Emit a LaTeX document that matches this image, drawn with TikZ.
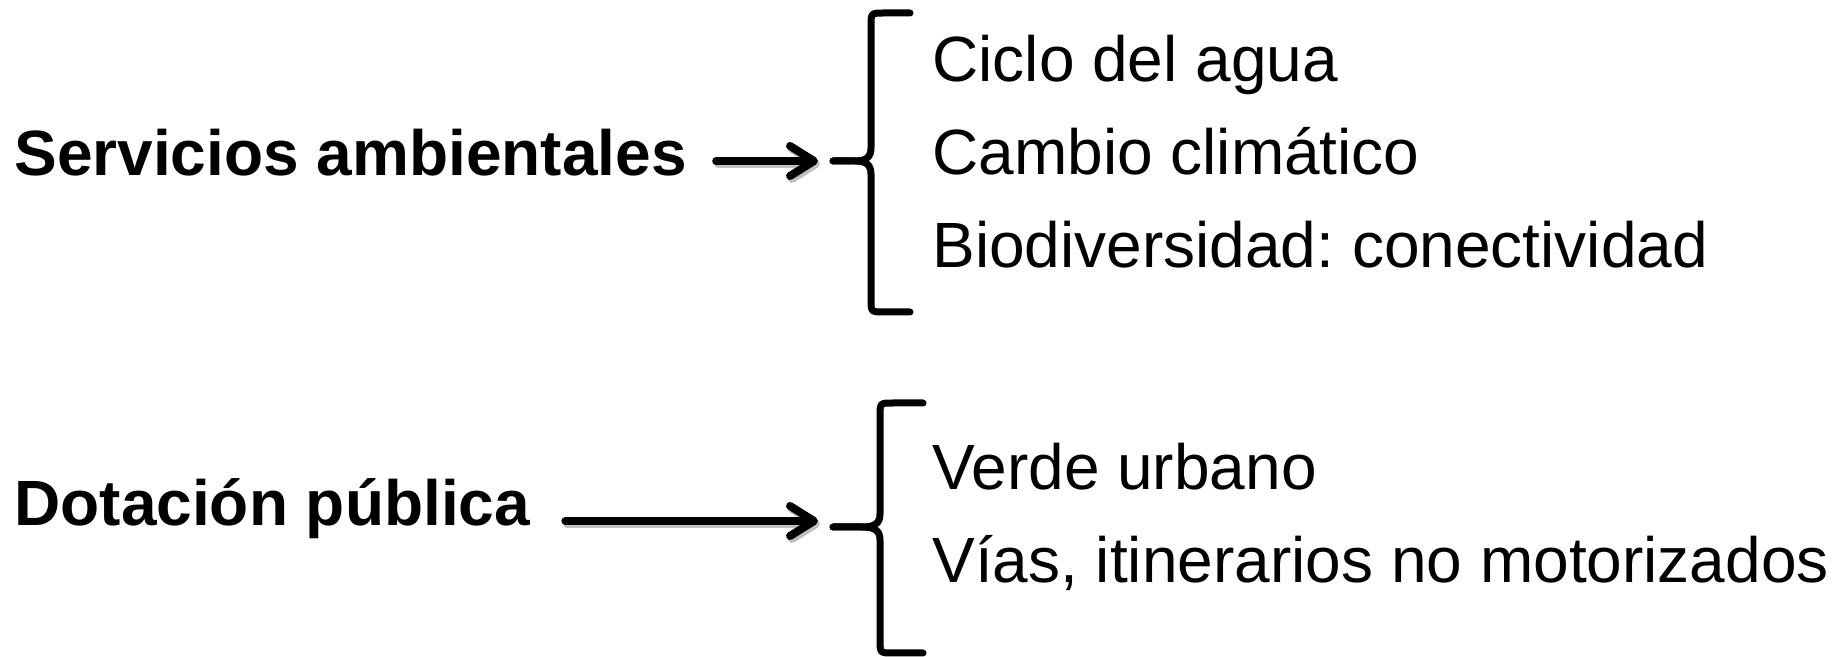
\documentclass[tikz,border=0pt]{standalone}
\usepackage{fontspec}
\setmainfont{Liberation Sans}
\usetikzlibrary{positioning,arrows.meta}

\tikzset{
  titulo/.style={font=\fontsize{32}{38}\selectfont\bfseries, inner sep=0pt, anchor=base west},
  item/.style={font=\fontsize{32}{38}\selectfont, inner sep=0pt, anchor=base west},
  flecha/.style={line width=4pt, line cap=round, -{Straight Barb[length=12pt,width=15pt,round]}},
  sombra/.style={flecha, draw=black!25, transform canvas={shift={(1pt,-1.5pt)}}},
  llave/.style={line width=3.5pt, line cap=round, line join=round}
}

\begin{document}
\frenchspacing
\begin{tikzpicture}[x=0.5pt, y=-0.5pt]
    \useasboundingbox (0,0) rectangle (1844,657);

    \node[titulo] (serv) at (14,176) {Servicios ambientales};
    \node[titulo, below=175pt of serv.base west, anchor=base west] (dot) {Dotación pública};

    \coordinate (p1) at (833,161);
    \coordinate (p2) at (833,527);
    \coordinate (f2) at (833,521);

    \node[item] (ciclo) at (932,82) {Ciclo del agua};
    \node[item, below=46.5pt of ciclo.base west, anchor=base west] (cambio) {Cambio climático};
    \node[item, below=46.5pt of cambio.base west, anchor=base west] (bio) {Biodiversidad: conectividad};

    \node[item] (verde) at (932,490) {Verde urbano};
    \node[item, below=46.5pt of verde.base west, anchor=base west] (vias) {Vías, itinerarios no motorizados};

    % llaves
    \draw[llave] (910,13) -- (884,13) .. controls (871,13) .. (871,26) -- (871,148)
        .. controls (871,158) and (865,161) .. (855,161) -- (p1);
    \draw[llave] (p1) -- (855,161) .. controls (865,161) and (871,164) .. (871,174)
        -- (871,299) .. controls (871,312) .. (884,312) -- (910,312);
    \draw[llave] (923,403) -- (893,403) .. controls (880,403) .. (880,416) -- (880,514)
        .. controls (880,524) and (874,527) .. (862,527) -- (p2);
    \draw[llave] (p2) -- (862,527) .. controls (874,527) and (880,530) .. (880,540)
        -- (880,640) .. controls (880,653) .. (893,653) -- (923,653);

    % flechas
    \draw[sombra, shorten <=14.5pt, shorten >=7.5pt] (serv.east |- p1) -- (p1);
    \draw[flecha, shorten <=14.5pt, shorten >=7.5pt] (serv.east |- p1) -- (p1);
    \draw[sombra, shorten <=17.5pt, shorten >=7.5pt] (dot.east |- f2) -- (f2);
    \draw[flecha, shorten <=17.5pt, shorten >=7.5pt] (dot.east |- f2) -- (f2);
\end{tikzpicture}
\end{document}
